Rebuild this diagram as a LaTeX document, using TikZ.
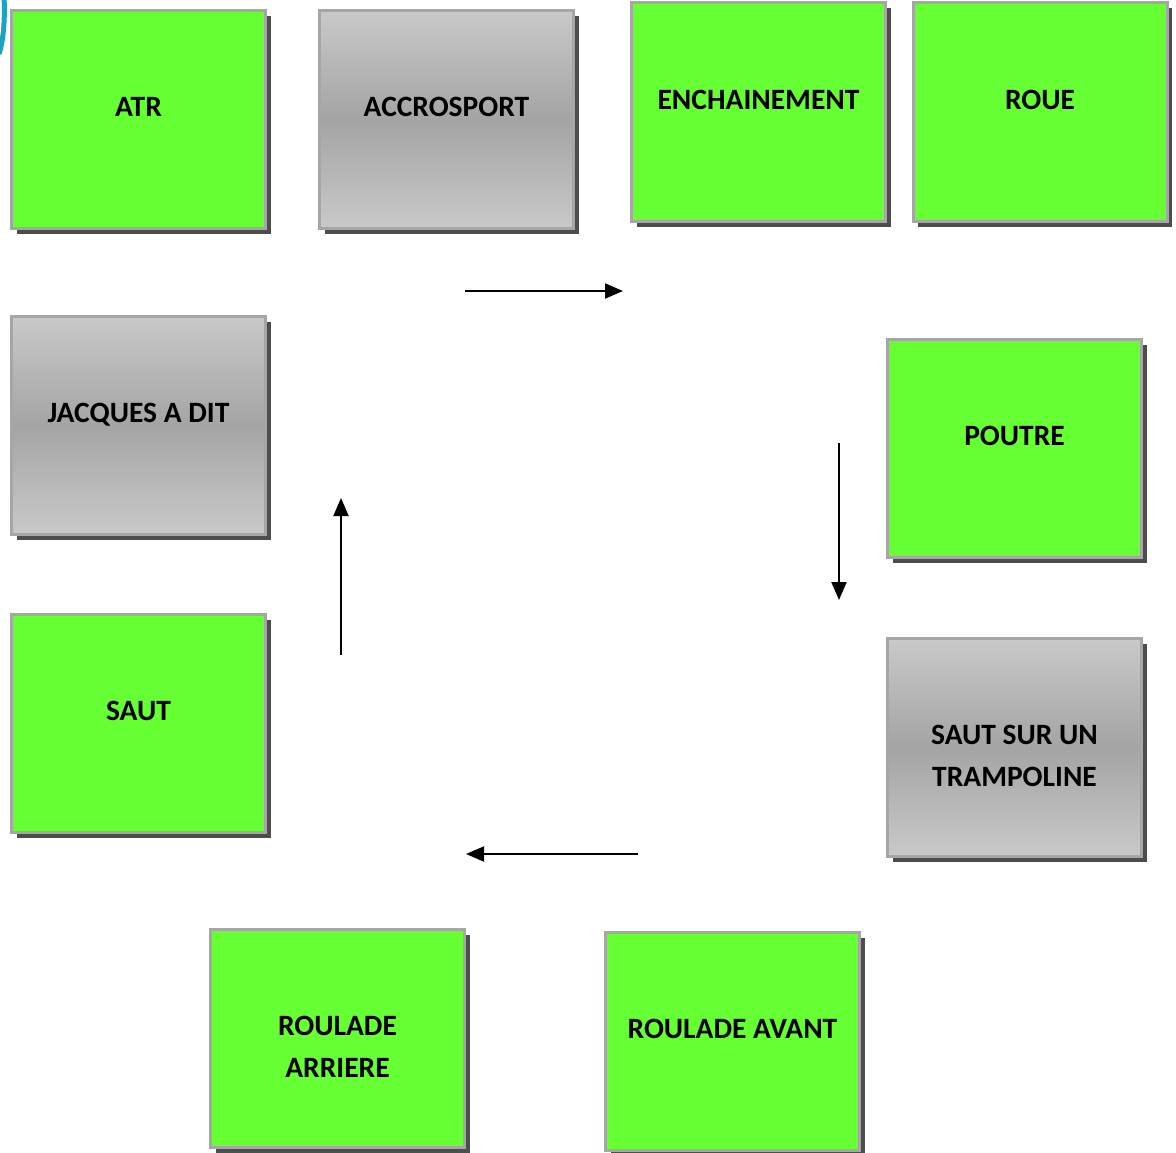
\documentclass[tikz,border=0pt]{standalone}
\usepackage{fontspec}
\setmainfont{Carlito}
\usepackage{tikz}
\usetikzlibrary{arrows.meta,positioning,shadows}
\usepackage{xcolor}
\definecolor{boxgreen}{HTML}{66FF33}
\definecolor{boxedge}{HTML}{A6A6A6}
\definecolor{greylight}{HTML}{C9C9C9}
\definecolor{greydark}{HTML}{A4A4A4}
\definecolor{shade}{HTML}{4D4D4D}
\definecolor{ringteal}{HTML}{1BA3BF}

\begin{document}
\begin{tikzpicture}[
  x=1pt, y=-1pt,
  station/.style={draw=boxedge, line width=3pt, minimum width=254pt, minimum height=218pt, inner sep=0pt,
    drop shadow={shadow xshift=5pt, shadow yshift=-5.5pt, fill=shade, opacity=1}},
  green/.style={station, fill=boxgreen},
  grey/.style={station, top color=greylight, bottom color=greylight, middle color=greydark},
  txt/.style={inner sep=0pt, align=center, font=\fontsize{29.5}{42}\selectfont\bfseries},
  arrow/.style={-{Triangle[length=18pt, width=15pt]}, line width=2pt},
]
  \useasboundingbox (0,0) rectangle (1176,1153);

  % ring edge in the corner
  \begin{scope}
    \clip (0,0) rectangle (40,70);
    \draw[ringteal, line width=5pt] (-1,54) .. controls (4,38) and (5,18) .. (4,-5);
  \end{scope}

  % Boxes
  \node[green] (atr) at (138.5,119.5) {};
  \node[grey] (accro) at (446.5,119.5) {};
  \node[green] (ench) at (758.5,112) {};
  \node[green] (roue) at (1040,112) {};
  \node[grey] (jacques) at (138.5,425.5) {};
  \node[green] (poutre) at (1014.5,448) {};
  \node[grey] (trampo) at (1014.5,747.5) {};
  \node[green] (saut) at (138.5,723.5) {};
  \node[green] (rarriere) at (337.5,1038.5) {};
  \node[green] (ravant) at (732.5,1041) {};

  % Texts
  \node[txt, below=88pt of atr.north] (atrtxt) {ATR};
  \node[txt, below=88pt of accro.north] (accrotxt) {ACCROSPORT};
  \node[txt, below=88pt of ench.north] (enchtxt) {ENCHAINEMENT};
  \node[txt, below=88pt of roue.north] (rouetxt) {ROUE};
  \node[txt, below=88pt of jacques.north] (jacquestxt) {JACQUES A DIT};
  \node[txt, below=88pt of poutre.north] (poutretxt) {POUTRE};
  \node[txt, below=88pt of trampo.north] (trampotxt) {SAUT SUR UN\\TRAMPOLINE};
  \node[txt, below=88pt of saut.north] (sauttxt) {SAUT};
  \node[txt, below=88pt of rarriere.north] (rarrieretxt) {ROULADE\\ARRIERE};
  \node[txt, below=88pt of ravant.north] (ravanttxt) {ROULADE AVANT};

  % Arrows
  \coordinate (topA) at (465,291);
  \coordinate (topB) at (623,291);
  \coordinate (rightA) at (839,443);
  \coordinate (rightB) at (839,600);
  \coordinate (botA) at (638,854);
  \coordinate (botB) at (466,854);
  \coordinate (leftA) at (341,655);
  \coordinate (leftB) at (341,498);
  \draw[arrow] (topA) -- (topB);
  \draw[arrow] (rightA) -- (rightB);
  \draw[arrow] (botA) -- (botB);
  \draw[arrow] (leftA) -- (leftB);
\end{tikzpicture}
\end{document}
